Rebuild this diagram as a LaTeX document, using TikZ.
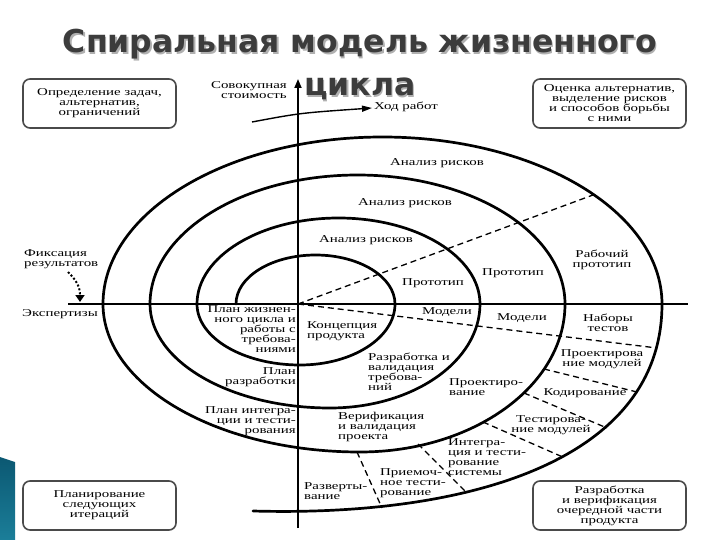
\documentclass[tikz,border=0pt]{standalone}
\usepackage{fontspec}
\setmainfont{Liberation Serif}
\newfontfamily\labfont[FakeStretch=1.42]{Liberation Serif}
\newfontfamily\titlefont{DejaVu Sans}
\usetikzlibrary{arrows.meta}
\definecolor{titlegray}{HTML}{3C3C3C}
\definecolor{shadowgray}{HTML}{B0B0B0}
\definecolor{boxgray}{HTML}{4A4A4A}
\definecolor{tealtop}{HTML}{1B7E99}
\definecolor{tealbot}{HTML}{0B5872}
\begin{document}
\begin{tikzpicture}[x=1pt,y=-1pt,
  lab/.style={font=\labfont\fontsize{10.5}{10}\selectfont, inner sep=0pt, align=center},
  labl/.style={lab, align=left, anchor=west},
  labr/.style={lab, align=right, anchor=east},
  box/.style={draw=boxgray, line width=1.6pt, rounded corners=7pt, fill=white, lab},
  spiral/.style={line width=2.7pt, line join=round, line cap=round},
  axisline/.style={line width=1.8pt},
  dashline/.style={line width=1.3pt, dash pattern=on 6pt off 4pt},
  ttl/.style={font=\titlefont\bfseries\fontsize{31.5}{43}\selectfont, inner sep=0pt, anchor=base}
]
\useasboundingbox (0,0) rectangle (720,540);
\fill[white] (0,0) rectangle (720,540);

% blue bar
\shade[bottom color=tealtop, top color=tealbot] (0,457) -- (15,462) -- (15,540) -- (0,540) -- cycle;

% coordinates
\coordinate (O) at (298,304);
\coordinate (vb) at (298,528);
\coordinate (vt) at (298,79);
\coordinate (hl) at (68,304);
\coordinate (hr) at (688,304);

% spiral
\draw[spiral] (236,304)
  arc[start angle=180, end angle=360, x radius=79.5, y radius=49]
  arc[start angle=0, end angle=90, x radius=95, y radius=61]
  arc[start angle=90, end angle=180, x radius=103, y radius=61]
  arc[start angle=180, end angle=360, x radius=141.5, y radius=86]
  arc[start angle=0, end angle=90, x radius=150, y radius=104]
  arc[start angle=90, end angle=180, x radius=180, y radius=104]
  arc[start angle=180, end angle=360, x radius=207.5, y radius=129]
  arc[start angle=0, end angle=90, x radius=205, y radius=148]
  arc[start angle=90, end angle=180, x radius=257, y radius=148]
  arc[start angle=180, end angle=360, x radius=279.5, y radius=167]
  .. controls (662,460) and (470,517) .. (253,511);

% dashed lines
\coordinate (d1) at (593,195);
\coordinate (d2) at (657,348);
\draw[dashline] (O) -- (d1);
\draw[dashline] (O) -- (d2);
\coordinate (a1) at (544,369); \coordinate (a2) at (637,392);
\coordinate (b1) at (524,393); \coordinate (b2) at (607,428);
\coordinate (c1) at (483,422); \coordinate (c2) at (565,458);
\coordinate (e1) at (418,444); \coordinate (e2) at (467,493);
\coordinate (f1) at (357,452); \coordinate (f2) at (382,508);
\draw[dashline] (a1) -- (a2);
\draw[dashline] (b1) -- (b2);
\draw[dashline] (c1) -- (c2);
\draw[dashline] (e1) -- (e2);
\draw[dashline] (f1) -- (f2);

% axes
\draw[axisline, -{Triangle[length=9pt,width=7pt]}] (vb) -- (vt);
\draw[axisline] (hl) -- (hr);

% Ход работ arrow
\coordinate (h1) at (252,122);
\coordinate (h2) at (372,108);
\draw[line width=1.4pt, -{Triangle[length=10pt,width=6pt]}] (h1) .. controls (300,113) .. (h2);
\node[lab, anchor=west] (hod) at (374,107) {Ход работ};

% Фиксация arrow
\coordinate (f0) at (68,272);
\coordinate (fe) at (80,302);
\draw[line width=2pt, dotted, -{Triangle[length=7pt,width=9pt]}] (f0) .. controls (77,281) and (80,287) .. (fe);
\node[labl] (fix) at (24,259) {Фиксация\\результатов};
\node[labl] (exp) at (22,314) {Экспертизы};
\node[labr] (cost) at (287,90) {Совокупная\\стоимость};

% boxes
\node[box, minimum width=153pt, minimum height=49pt] (boxTL) at (99.5,103.5) {Определение задач,\\альтернатив,\\ограничений};
\node[box, minimum width=153pt, minimum height=49pt] (boxTR) at (609.5,103.5) {Оценка альтернатив,\\выделение рисков\\и способов борьбы\\с ними};
\node[box, minimum width=153pt, minimum height=49pt] (boxBL) at (99.5,505.5) {Планирование\\следующих\\итераций};
\node[box, minimum width=153pt, minimum height=49pt] (boxBR) at (609.5,505.5) {Разработка\\и верификация\\очередной части\\продукта};

% labels upper right
\node[lab] (ar1) at (437,163) {Анализ рисков};
\node[lab] (ar2) at (405,203) {Анализ рисков};
\node[lab] (ar3) at (366,240) {Анализ рисков};
\node[lab] (pr1) at (433,283) {Прототип};
\node[lab] (pr2) at (513,273) {Прототип};
\node[lab] (pr3) at (602,260) {Рабочий\\прототип};

% lower right
\node[lab] (m1) at (447,312) {Модели};
\node[lab] (m2) at (522,318) {Модели};
\node[lab] (nt) at (608,323) {Наборы\\тестов};
\node[labl] (kp) at (307,331) {Концепция\\продукта};
\node[labl] (rv) at (368,372) {Разработка и\\валидация\\требова-\\ний};
\node[labl] (pv) at (449,387) {Проектиро-\\вание};
\node[lab] (pm) at (602,359) {Проектирова\\ние модулей};
\node[lab] (kod) at (585,393) {Кодирование};
\node[lab] (tm) at (551,425) {Тестирова-\\ние модулей};
\node[labl] (vvp) at (338,427) {Верификация\\и валидация\\проекта};
\node[labl] (its) at (448,457) {Интегра-\\ция и тести-\\рование\\системы};
\node[labl] (pt) at (380,483) {Приемоч-\\ное тести-\\рование};
\node[labl] (rz) at (304,491) {Разверты-\\вание};

% lower left
\node[labr] (pzc) at (296,329) {План жизнен-\\ного цикла и\\работы с\\требова-\\ниями};
\node[labr] (prz) at (296,377) {План\\разработки};
\node[labr] (pit) at (296,421) {План интегра-\\ции и тести-\\рования};

% title
\node[ttl, text=shadowgray] (t1s) at (361.5,54.5) {Спиральная модель жизненного};
\node[ttl, text=shadowgray] (t2s) at (361.5,97.5) {цикла};
\node[ttl, text=titlegray] (t1) at (360,53) {Спиральная модель жизненного};
\node[ttl, text=titlegray] (t2) at (360,96) {цикла};
\end{tikzpicture}
\end{document}
